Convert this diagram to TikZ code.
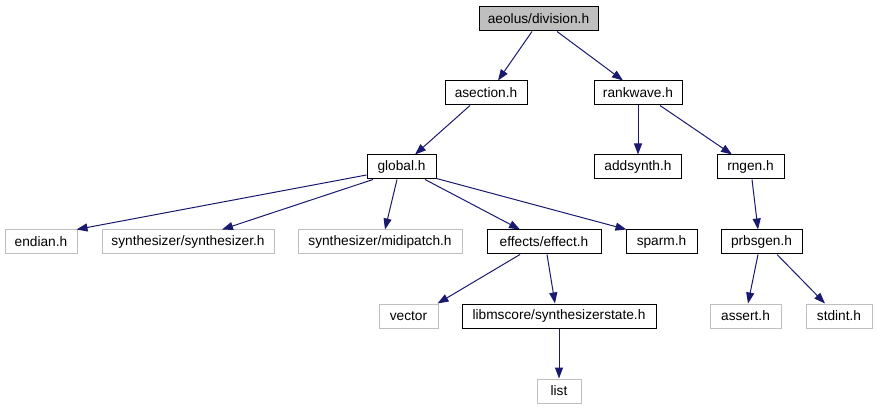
\documentclass[tikz,border=0pt]{standalone}
\usepackage{fontspec}
\setmainfont{Liberation Sans}
\usetikzlibrary{arrows.meta}
\definecolor{edgeblue}{HTML}{191970}
\definecolor{lightborder}{HTML}{BFBFBF}
\definecolor{topfill}{HTML}{BFBFBF}
\begin{document}
\begin{tikzpicture}[x=1pt,y=-1pt,
  filebox/.style={draw=black,line width=1pt,fill=white,minimum height=24pt,inner sep=0pt,
    font=\fontsize{13.7}{15}\selectfont},
  extbox/.style={filebox,draw=lightborder},
  topbox/.style={filebox,fill=topfill},
  dep/.style={draw=edgeblue,line width=1pt,-{Triangle[length=11pt,width=8pt]}}]
\useasboundingbox (0,0) rectangle (877,411);
% row 1
\node[topbox,minimum width=119pt] (div) at (538.5,19) {aeolus/division.h};
% row 2
\node[filebox,minimum width=82pt] (asec) at (486,93) {asection.h};
\node[filebox,minimum width=88pt] (rank) at (638,93) {rankwave.h};
% row 3
\node[filebox,minimum width=69pt] (glob) at (401.5,167) {global.h};
\node[filebox,minimum width=87pt] (adds) at (638,167) {addsynth.h};
\node[filebox,minimum width=67pt] (rng) at (750.5,167) {rngen.h};
% row 4
\node[extbox,minimum width=72pt] (endian) at (41,242) {endian.h};
\node[extbox,minimum width=172pt] (synth) at (188,242) {synthesizer/synthesizer.h};
\node[extbox,minimum width=164pt] (midi) at (380,242) {synthesizer/midipatch.h};
\node[filebox,minimum width=114pt] (eff) at (544,242) {effects/effect.h};
\node[filebox,minimum width=71pt] (sparm) at (661.5,242) {sparm.h};
\node[filebox,minimum width=81pt] (prbs) at (761.5,242) {prbsgen.h};
% row 5
\node[extbox,minimum width=59pt] (vec) at (408.5,316) {vector};
\node[filebox,minimum width=194pt] (lms) at (559,316) {libmscore/synthesizerstate.h};
\node[extbox,minimum width=71pt] (assert) at (745.5,316) {assert.h};
\node[extbox,minimum width=66pt] (stdint) at (839,316) {stdint.h};
% row 6
\node[extbox,minimum width=44pt] (list) at (559,391) {list};
% edges
\draw[dep] ([xshift=-6.5pt]div.south) -- ([xshift=12pt]asec.north);
\draw[dep] ([xshift=18.5pt]div.south) -- ([xshift=-15pt]rank.north);
\draw[dep] ([xshift=-16pt]asec.south) -- ([xshift=13.5pt]glob.north);
\draw[dep] (rank.south) -- (adds.north);
\draw[dep] ([xshift=22pt]rank.south) -- ([xshift=-18.5pt]rng.north);
\draw[dep] ([yshift=-8pt]glob.west) -- ([xshift=-1pt]endian.north east);
\draw[dep] ([xshift=-28.5pt]glob.south) -- ([xshift=34pt]synth.north);
\draw[dep] ([xshift=-4.5pt]glob.south) -- ([xshift=5pt]midi.north);
\draw[dep] ([xshift=23.5pt]glob.south) -- ([xshift=-24pt]eff.north);
\draw[dep] ([yshift=1pt]glob.south east) -- ([xshift=1pt]sparm.north west);
\draw[dep] ([xshift=1.5pt]rng.south) -- ([xshift=-3.5pt]prbs.north);
\draw[dep] ([xshift=-24pt]eff.south) -- ([xshift=-1pt]vec.north east);
\draw[dep] ([xshift=3pt]eff.south) -- ([xshift=-4pt]lms.north);
\draw[dep] (lms.south) -- (list.north);
\draw[dep] ([xshift=-3.5pt]prbs.south) -- ([xshift=2.5pt]assert.north);
\draw[dep] ([xshift=15.5pt]prbs.south) -- ([xshift=-14pt]stdint.north);
\end{tikzpicture}
\end{document}
